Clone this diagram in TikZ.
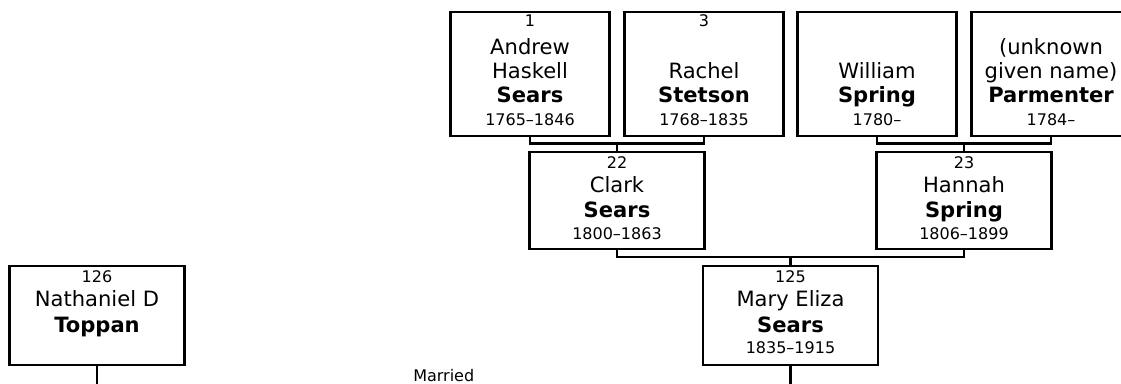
\documentclass[tikz,border=0pt]{standalone}
\usepackage{fontspec}
\setmainfont{DejaVu Sans}
\usetikzlibrary{calc}
\newcommand\nmfont{\fontsize{15.8}{18}\selectfont}
\newcommand\smfont{\fontsize{12}{14}\selectfont}
\tikzset{
  topbox/.style={draw, line width=1.9pt, rectangle, minimum width=119pt, minimum height=93pt, inner sep=0pt},
  lowbox/.style={draw, line width=1.9pt, rectangle, minimum width=131pt, minimum height=73pt, inner sep=0pt},
  botbox/.style={draw, line width=1.9pt, rectangle, minimum width=131pt, minimum height=74.5pt, inner sep=0pt},
  nm/.style={anchor=base, inner sep=0pt, font=\nmfont},
  sm/.style={anchor=base, inner sep=0pt, font=\smfont},
  conn/.style={line width=1.8pt},
}
\begin{document}
\begin{tikzpicture}[x=0.75pt,y=-0.75pt]
\useasboundingbox (0,0) rectangle (1121,384);
% top row
\node[topbox] (a1) at (530,74) {};
\node[topbox] (a3) at (704,74) {};
\node[topbox] (aw) at (877,74) {};
\node[topbox] (ap) at (1051,74) {};
% middle row
\node[lowbox] (c22) at (617,200.5) {};
\node[lowbox] (c23) at (964,200.5) {};
% bottom row
\node[botbox] (m125) at (790.5,315.5) {};
\node[botbox] (t126) at (97,315.5) {};
% texts top row
\node[sm] (a1n) at ($(a1)+(0,-47)$) {1};
\node[nm] (a1a) at ($(a1)+(0,-19)$) {Andrew};
\node[nm] (a1b) at ($(a1)+(0,5)$) {Haskell};
\node[nm] (a1c) at ($(a1)+(0,29)$) {\textbf{Sears}};
\node[sm] (a1d) at ($(a1)+(0,52)$) {1765–1846};
\node[sm] (a3n) at ($(a3)+(0,-47)$) {3};
\node[nm] (a3b) at ($(a3)+(0,5)$) {Rachel};
\node[nm] (a3c) at ($(a3)+(0,29)$) {\textbf{Stetson}};
\node[sm] (a3d) at ($(a3)+(0,52)$) {1768–1835};
\node[nm] (awb) at ($(aw)+(0,5)$) {William};
\node[nm] (awc) at ($(aw)+(0,29)$) {\textbf{Spring}};
\node[sm] (awd) at ($(aw)+(0,52)$) {1780–};
\node[nm] (apa) at ($(ap)+(0,-19)$) {(unknown};
\node[nm] (apb) at ($(ap)+(0,5)$) {given name)};
\node[nm] (apc) at ($(ap)+(0,29)$) {\textbf{Parmenter}};
\node[sm] (apd) at ($(ap)+(0,52)$) {1784–};
% texts middle row
\node[sm] (c22n) at ($(c22)+(0,-32)$) {22};
\node[nm] (c22a) at ($(c22)+(0,-7.5)$) {Clark};
\node[nm] (c22b) at ($(c22)+(0,17.5)$) {\textbf{Sears}};
\node[sm] (c22d) at ($(c22)+(0,39.5)$) {1800–1863};
\node[sm] (c23n) at ($(c23)+(0,-32)$) {23};
\node[nm] (c23a) at ($(c23)+(0,-7.5)$) {Hannah};
\node[nm] (c23b) at ($(c23)+(0,17.5)$) {\textbf{Spring}};
\node[sm] (c23d) at ($(c23)+(0,39.5)$) {1806–1899};
% texts bottom row
\node[sm] (m125n) at ($(m125)+(0,-32.5)$) {125};
\node[nm] (m125a) at ($(m125)+(0,-8.5)$) {Mary Eliza};
\node[nm] (m125b) at ($(m125)+(0,17.5)$) {\textbf{Sears}};
\node[sm] (m125d) at ($(m125)+(0,38.5)$) {1835–1915};
\node[sm] (t126n) at ($(t126)+(0,-32.5)$) {126};
\node[nm] (t126a) at ($(t126)+(0,-8.5)$) {Nathaniel D};
\node[nm] (t126b) at ($(t126)+(0,17.5)$) {\textbf{Toppan}};
% married label
\node[sm, anchor=base west] (married) at (413,381.5) {Married};
% junctions
\coordinate (j1) at (617,143.5);
\coordinate (j2) at (964,143.5);
\coordinate (j3) at (790.5,257);
\coordinate (tm) at (790.5,384);
\coordinate (tt) at (97,384);
% connectors
\draw[conn] (a1.south) |- (j1) -| (a3.south);
\draw[conn] (j1) -- (c22.north);
\draw[conn] (aw.south) |- (j2) -| (ap.south);
\draw[conn] (j2) -- (c23.north);
\draw[conn] (c22.south) |- (j3) -| (c23.south);
\draw[conn] (j3) -- (m125.north);
\draw[conn] (m125.south) -- (tm);
\draw[conn] (t126.south) -- (tt);
\end{tikzpicture}
\end{document}
